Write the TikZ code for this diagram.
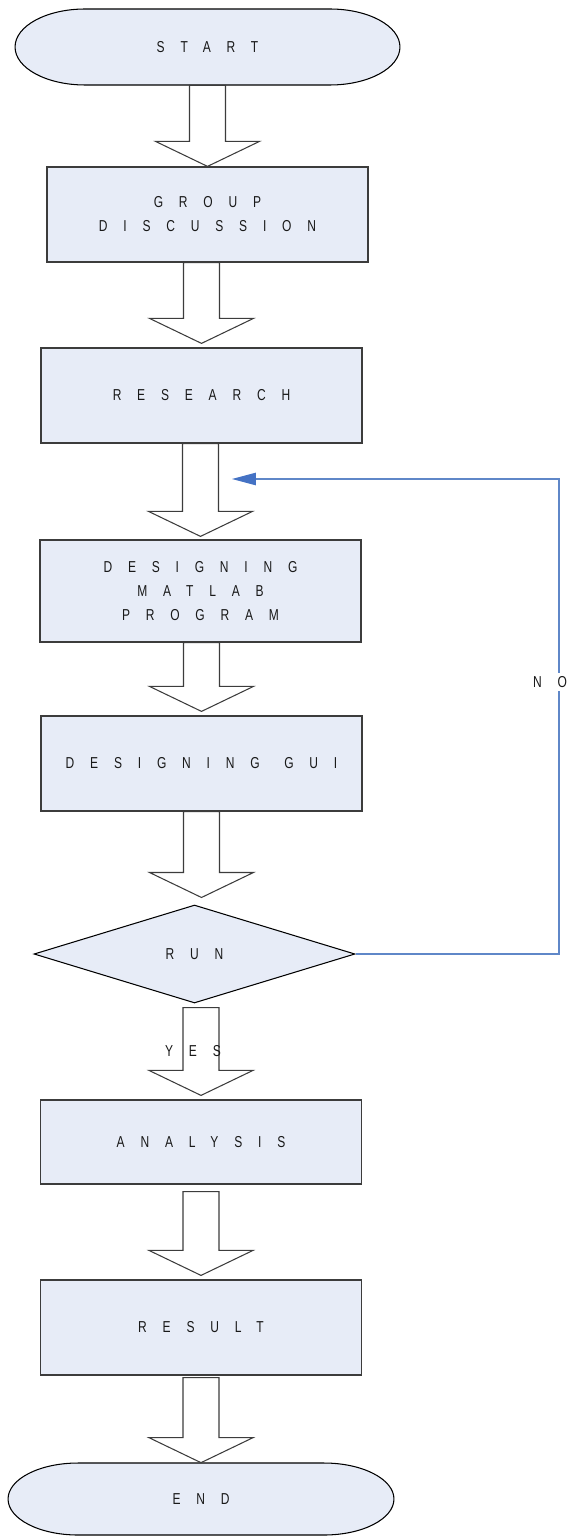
\documentclass[tikz,border=0pt]{standalone}
\usepackage{fontspec}
\newfontfamily\flowfont{Liberation Sans}[FakeStretch=0.76,LetterSpace=100]
\usetikzlibrary{shapes.geometric,calc,arrows.meta,backgrounds}

\definecolor{boxfill}{RGB}{231,236,247}
\definecolor{boxline}{RGB}{60,60,60}
\definecolor{loopblue}{RGB}{95,135,200}
\definecolor{tipblue}{RGB}{68,114,196}
\definecolor{labelgray}{RGB}{25,25,25}

\tikzset{
  steptext/.style={font=\flowfont\fontsize{9}{13.6}\selectfont, text=labelgray, align=center},
  stepbox/.style={steptext, draw=boxline, fill=boxfill, line width=0.7pt, minimum width=6.42cm, inner sep=0pt},
  termnode/.style={steptext, minimum width=#1, minimum height=1.52cm, inner sep=0pt},
  termline/.style={draw=black, fill=boxfill, line width=0.6pt},
  decision/.style={steptext, diamond, draw=black, fill=boxfill, line width=0.6pt, minimum width=6.42cm, minimum height=1.96cm, inner sep=0pt},
  blockline/.style={draw=boxline, fill=white, line width=0.6pt},
  loopline/.style={draw=loopblue, line width=0.6pt, -{Triangle[length=0.48cm,width=0.25cm,color=tipblue]}}
}

% rounded terminal outline: node, half flat length, half height
\newcommand{\termshape}[3]{%
  \draw[termline] ([shift={(-#2,#3)}]#1.center) -- ([shift={(#2,#3)}]#1.center)
    arc[start angle=90,end angle=-90,x radius=1.4cm,y radius=#3]
    -- ([shift={(-#2,-#3)}]#1.center)
    arc[start angle=270,end angle=90,x radius=1.4cm,y radius=#3] -- cycle;}

% hollow block arrow: from, to, x node, top gap, tip gap (px)
\newcommand{\blockarrow}[5]{%
  \filldraw[blockline] let \p1=(#1.south), \p2=(#2.north), \p3=(#3.center) in
    (\x3-0.36cm,\y1-#4*0.02cm) -- (\x3-0.36cm,\y2+#5*0.02cm+0.5cm)
    -- (\x3-1.04cm,\y2+#5*0.02cm+0.5cm) -- (\x3,\y2+#5*0.02cm)
    -- (\x3+1.04cm,\y2+#5*0.02cm+0.5cm) -- (\x3+0.36cm,\y2+#5*0.02cm+0.5cm)
    -- (\x3+0.36cm,\y1-#4*0.02cm) -- cycle;}

\begin{document}
\begin{tikzpicture}[x=0.02cm,y=-0.02cm]
\useasboundingbox (0,0) rectangle (566,1537);

% steps
\node[termnode=7.7cm] (start) at (207.5,47) {START};
\node[stepbox,minimum height=1.9cm] (group) at (207.5,214.5) {GROUP\\DISCUSSION};
\node[stepbox,minimum height=1.9cm] (research) at (201.5,395.5) {RESEARCH};
\node[stepbox,minimum height=2.04cm] (matlab) at (200.5,591) {DESIGNING\\MATLAB\\PROGRAM};
\node[stepbox,minimum height=1.9cm] (gui) at (201.5,763.5) {DESIGNING\hspace*{14pt}GUI};
\node[decision] (run) at (194.5,954) {RUN};
\node[stepbox,minimum height=1.68cm] (analysis) at (201,1142) {ANALYSIS};
\node[stepbox,minimum height=1.9cm] (result) at (201,1327.5) {RESULT};
\node[termnode=7.72cm,minimum height=1.44cm] (finish) at (201,1499) {END};

\begin{scope}[on background layer]
\termshape{start}{2.45cm}{0.76cm}
\termshape{finish}{2.46cm}{0.72cm}
\end{scope}

% arrows
\blockarrow{start}{group}{start}{0}{0}
\blockarrow{group}{research}{research}{0}{4}
\blockarrow{research}{matlab}{matlab}{0}{3}
\blockarrow{matlab}{gui}{gui}{0}{4}
\blockarrow{gui}{run}{gui}{0}{7}
\blockarrow{run}{analysis}{analysis}{4}{4}
\blockarrow{analysis}{result}{result}{7}{4}
\blockarrow{result}{finish}{finish}{2}{0}

% back loop when the run fails
\coordinate (loopcorner) at (559,479);
\coordinate (loopend) at (232,479);
\draw[loopline] (run.east) -| (loopcorner) -- (loopend);
\node[steptext,fill=white,inner sep=2pt] (no) at (550,682) {NO};
\node[steptext] (yes) at (193,1051) {YES};

\end{tikzpicture}
\end{document}
